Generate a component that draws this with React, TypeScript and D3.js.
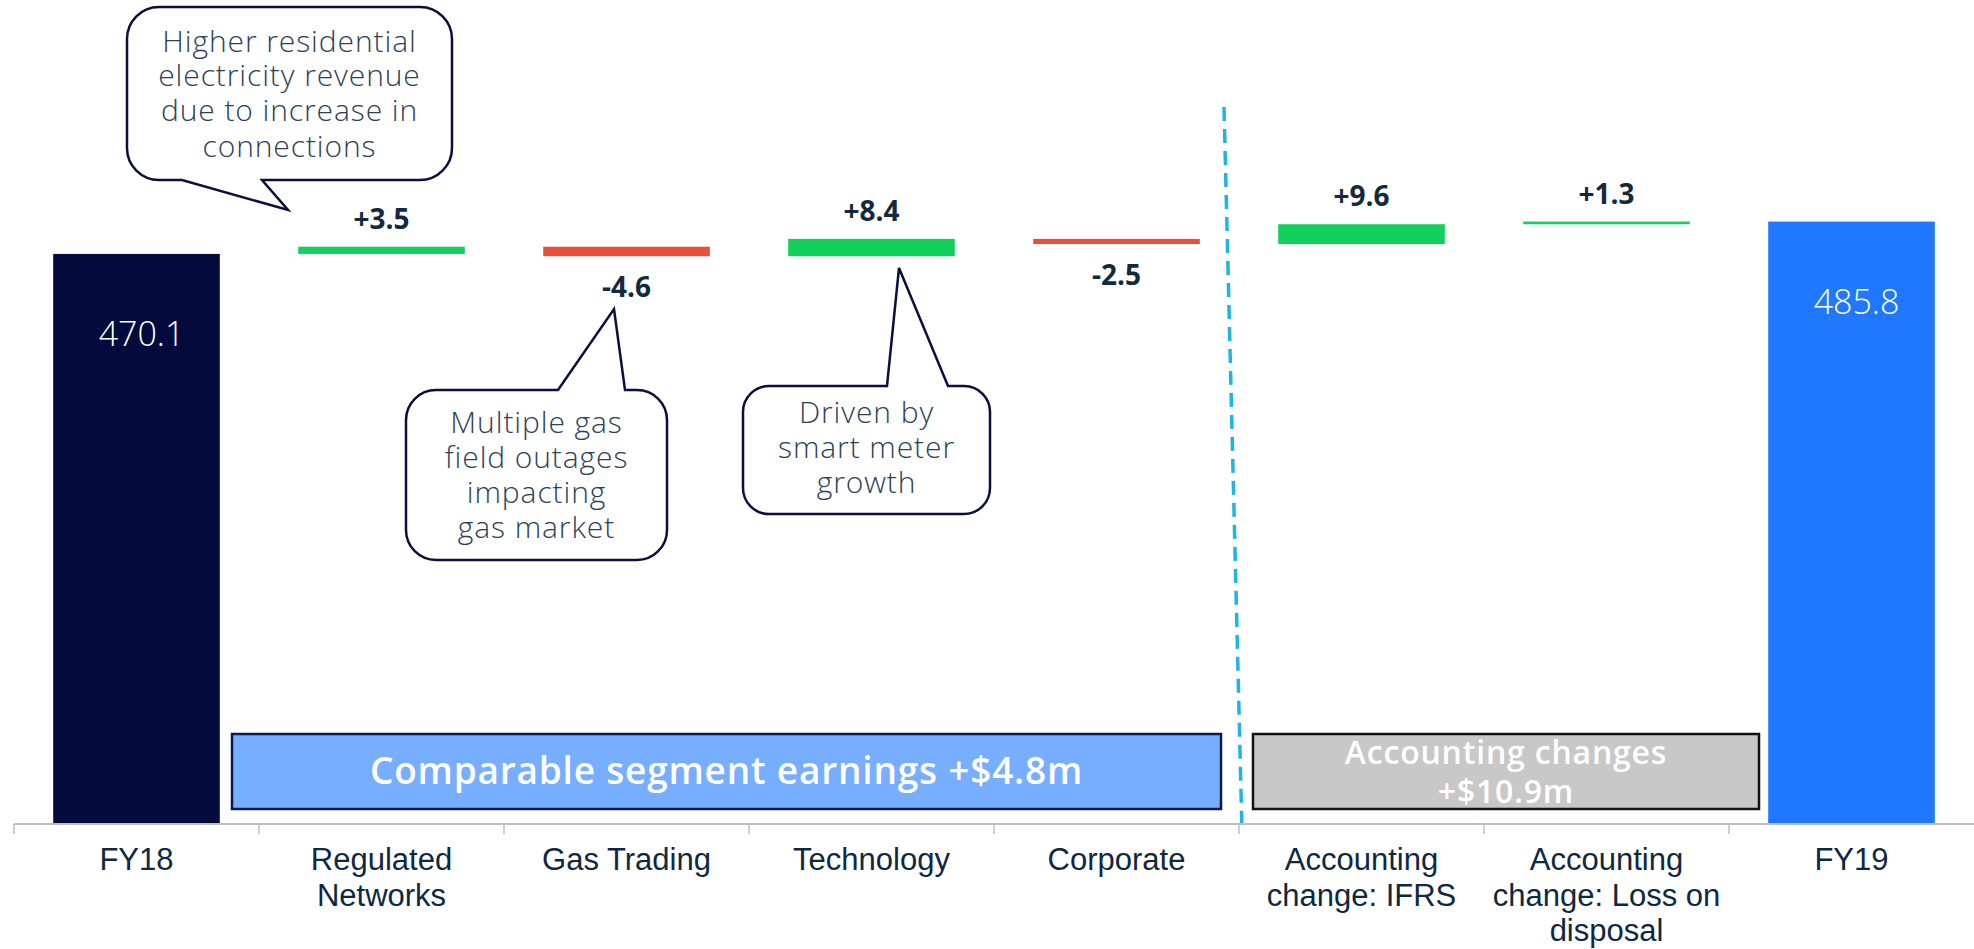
import React from "react";
import * as d3 from "d3";

// ---------- data ----------
const categories = [
  "FY18",
  "Regulated Networks",
  "Gas Trading",
  "Technology",
  "Corporate",
  "Accounting change: IFRS",
  "Accounting change: Loss on disposal",
  "FY19",
];
const categoryLines = [
  ["FY18"],
  ["Regulated", "Networks"],
  ["Gas Trading"],
  ["Technology"],
  ["Corporate"],
  ["Accounting", "change: IFRS"],
  ["Accounting", "change: Loss on", "disposal"],
  ["FY19"],
];
const values = [470.1, 3.5, -4.6, 8.4, -2.5, 9.6, 1.3, 485.8];
const kinds = ["total", "delta", "delta", "delta", "delta", "delta", "delta", "total"];
const valueLabels = ["470.1", "+3.5", "-4.6", "+8.4", "-2.5", "+9.6", "+1.3", "485.8"];

const groupLabels = [["Comparable segment earnings +$4.8m"], ["Accounting changes", "+$10.9m"]];

const calloutTexts = [
  ["Higher residential", "electricity revenue", "due to increase in", "connections"],
  ["Multiple gas", "field outages", "impacting", "gas market"],
  ["Driven by", "smart meter", "growth"],
];

// ---------- layout ----------
const W = 1974;
const H = 949;
const axisY = 824;
const xLeft = 14;
const yDomain = [193.5, 500];
const yRangeTop = 192.3;

const C = {
  navy: "#020B3B",
  blue: "#1F78FF",
  green: "#12D05C",
  red: "#E8503A",
  label: "#13293D",
  axisText: "#0E2841",
  callText: "#2D4156",
  callStroke: "#0A0F3C",
};

type Callout = {
  x: number; y: number; w: number; h: number; r: number;
  side: "top" | "bottom"; a: number; b: number; tx: number; ty: number;
  baselines: number[];
};
const callouts: Callout[] = [
  { x: 127, y: 7, w: 325, h: 173, r: 32, side: "bottom", a: 182, b: 262, tx: 288, ty: 210, baselines: [52, 86, 121, 157] },
  { x: 406, y: 390, w: 261, h: 170, r: 30, side: "top", a: 558, b: 625, tx: 614, ty: 309, baselines: [433, 468, 503, 538] },
  { x: 743, y: 386, w: 247, h: 128, r: 26, side: "top", a: 887, b: 948, tx: 899, ty: 268, baselines: [423, 458, 493] },
];

function bubblePath(c: Callout) {
  const { x, y, w, h, r, side, a, b, tx, ty } = c;
  const p: string[] = [];
  p.push(`M${x + r},${y}`);
  if (side === "top") p.push(`L${a},${y} L${tx},${ty} L${b},${y}`);
  p.push(`L${x + w - r},${y}`);
  p.push(`A${r},${r} 0 0 1 ${x + w},${y + r}`);
  p.push(`L${x + w},${y + h - r}`);
  p.push(`A${r},${r} 0 0 1 ${x + w - r},${y + h}`);
  if (side === "bottom") p.push(`L${b},${y + h} L${tx},${ty} L${a},${y + h}`);
  p.push(`L${x + r},${y + h}`);
  p.push(`A${r},${r} 0 0 1 ${x},${y + h - r}`);
  p.push(`L${x},${y + r}`);
  p.push(`A${r},${r} 0 0 1 ${x + r},${y}`);
  p.push("Z");
  return p.join(" ");
}

export default function App() {
  const x = d3.scaleBand<string>().domain(categories).range([xLeft, W]).padding(0);
  const step = x.step();
  const barW = step * 0.68;
  const y = d3.scaleLinear().domain(yDomain).range([axisY, yRangeTop]);

  // waterfall running totals
  let running = 0;
  const bars = values.map((v, i) => {
    let lo: number, hi: number;
    if (kinds[i] === "total") {
      lo = yDomain[0];
      hi = v;
      running = v;
    } else {
      const start = running;
      running = start + v;
      lo = Math.min(start, running);
      hi = Math.max(start, running);
    }
    const color = kinds[i] === "total" ? (i === 0 ? C.navy : C.blue) : v >= 0 ? C.green : C.red;
    return { i, v, lo, hi, color, cx: (x(categories[i]) as number) + step / 2 };
  });

  const boundary = (k: number) => xLeft + k * step;

  const groupBoxes = [
    { x0: boundary(1) - 27, x1: boundary(5) - 18, fill: "#78AEFF", stroke: "#0A1A4A", fs: 37, ls: 0.8, base: [784] },
    { x0: boundary(5) + 14, x1: boundary(7) + 30, fill: "#C8C8C8", stroke: "#111111", fs: 32, ls: 0.8, base: [764, 803] },
  ];

  return (
    <svg
      width={W}
      height={H}
      style={{ position: "absolute", left: 0, top: 0, background: "#fff" }}
      xmlns="http://www.w3.org/2000/svg"
    >
      {/* bars */}
      {bars.map((d) => (
        <rect
          key={"b" + d.i}
          x={d.cx - barW / 2}
          width={barW}
          y={y(d.hi)}
          height={Math.max(2, y(d.lo) - y(d.hi))}
          fill={d.color}
        />
      ))}

      {/* value labels */}
      {bars.map((d) => {
        if (kinds[d.i] === "total") {
          return (
            <text
              key={"l" + d.i}
              x={d.cx + 5}
              y={y(d.hi) + 92}
              textAnchor="middle"
              fontFamily="'Open Sans', sans-serif"
              fontWeight={300}
              fontSize={34}
              fill="#ffffff"
            >
              {valueLabels[d.i]}
            </text>
          );
        }
        const above = d.v >= 0;
        return (
          <text
            key={"l" + d.i}
            x={d.cx}
            y={above ? y(d.hi) - 18 : y(d.lo) + 41}
            textAnchor="middle"
            fontFamily="'Open Sans', sans-serif"
            fontWeight={700}
            fontSize={28}
            fill={C.label}
          >
            {valueLabels[d.i]}
          </text>
        );
      })}

      {/* group boxes */}
      {groupBoxes.map((g, gi) => (
        <g key={"g" + gi}>
          <rect
            x={g.x0}
            y={734}
            width={g.x1 - g.x0}
            height={75}
            fill={g.fill}
            stroke={g.stroke}
            strokeWidth={2.5}
          />
          {groupLabels[gi].map((t, li) => (
            <text
              key={li}
              x={(g.x0 + g.x1) / 2}
              y={g.base[li]}
              textAnchor="middle"
              fontFamily="'Open Sans', sans-serif"
              fontWeight={600}
              fontSize={g.fs}
              letterSpacing={g.ls}
              fill="#ffffff"
            >
              {t}
            </text>
          ))}
        </g>
      ))}

      {/* dashed separator */}
      <line
        x1={boundary(5) - 15}
        y1={107}
        x2={boundary(5) + 3}
        y2={axisY + 8}
        stroke="#1EB4E3"
        strokeWidth={3.5}
        strokeDasharray="14 8"
      />

      {/* axis */}
      <line x1={xLeft} x2={W} y1={axisY} y2={axisY} stroke="#BFBFBF" strokeWidth={2} />
      {d3.range(0, categories.length).map((k) => (
        <line
          key={"t" + k}
          x1={boundary(k)}
          x2={boundary(k)}
          y1={axisY}
          y2={axisY + 10}
          stroke="#BFBFBF"
          strokeWidth={1.5}
        />
      ))}
      {categoryLines.map((lines, i) => (
        <text
          key={"c" + i}
          textAnchor="middle"
          fontFamily="'Liberation Sans', Arial, sans-serif"
          fontSize={31}
          fill={C.axisText}
        >
          {lines.map((t, li) => (
            <tspan key={li} x={(x(categories[i]) as number) + step / 2} y={870 + li * 35.5}>
              {t}
            </tspan>
          ))}
        </text>
      ))}

      {/* callouts */}
      {callouts.map((c, ci) => (
        <g key={"co" + ci}>
          <path d={bubblePath(c)} fill="#ffffff" stroke={C.callStroke} strokeWidth={2.5} strokeLinejoin="miter" />
          {calloutTexts[ci].map((t, li) => (
            <text
              key={li}
              x={c.x + c.w / 2}
              y={c.baselines[li]}
              textAnchor="middle"
              fontFamily="'Open Sans', sans-serif"
              fontWeight={300}
              fontSize={30}
              letterSpacing={0.9}
              fill={C.callText}
            >
              {t}
            </text>
          ))}
        </g>
      ))}
    </svg>
  );
}
